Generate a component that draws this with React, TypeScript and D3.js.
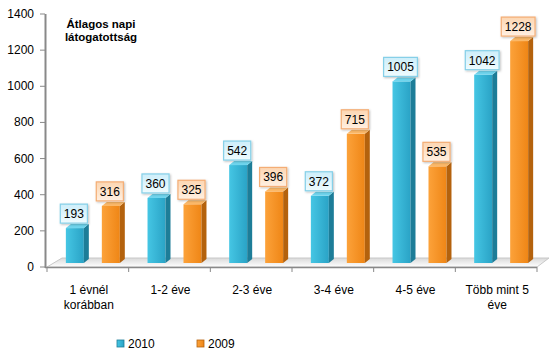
import React from "react";
import * as d3 from "d3";

const categories = ["c1", "c2", "c3", "c4", "c5", "c6"];
const categoryLabels: string[][] = [
  ["1 évnél", "korábban"],
  ["1-2 éve"],
  ["2-3 éve"],
  ["3-4 éve"],
  ["4-5 éve"],
  ["Több mint 5", "éve"],
];
const seriesNames = ["2010", "2009"];
const values2010 = [193, 360, 542, 372, 1005, 1042];
const values2009 = [316, 325, 396, 715, 535, 1228];
const yTicks = [0, 200, 400, 600, 800, 1000, 1200, 1400];
const titleLines = ["Átlagos napi", "látogatottság"];

const W = 559;
const H = 350;
const FONT = "'Liberation Sans', Arial, sans-serif";

const palette = {
  "2010": {
    frontA: "#45c6e4",
    frontB: "#2aa3c6",
    side: "#1d7d98",
    top: "#6fd5ee",
    boxFillA: "#cdeefa",
    boxFillB: "#effbfe",
    boxStroke: "#86d0e8",
  },
  "2009": {
    frontA: "#fca23a",
    frontB: "#ef8616",
    side: "#b4620d",
    top: "#fbb868",
    boxFillA: "#fcd6b2",
    boxFillB: "#fff0e2",
    boxStroke: "#f4ad74",
  },
} as Record<string, any>;

export default function App() {
  const x0 = 47;
  const x1 = 537;
  const yBase = 267;
  const x = d3.scaleBand<string>().domain(categories).range([x0, x1]);
  const bw = x.bandwidth();
  const xs = d3
    .scaleBand<string>()
    .domain(seriesNames)
    .range([0, bw])
    .paddingInner(0.5)
    .paddingOuter(0.385);
  const y = d3.scaleLinear().domain([0, 1400]).range([yBase, 14]);

  const dx = 5; // 3d depth
  const dy = 4;
  const shiftX = 5;
  const shiftY = 4;
  const floorDX = 13;
  const floorDY = 9;

  const series = [
    { name: "2010", values: values2010 },
    { name: "2009", values: values2009 },
  ];

  return (
    <svg
      width={W}
      height={H}
      style={{ position: "absolute", left: 0, top: 0, background: "#fff" }}
      fontFamily={FONT}
    >
      <defs>
        {seriesNames.map((s) => (
          <linearGradient key={"g" + s} id={"front" + s} x1="0" x2="1" y1="0" y2="0">
            <stop offset="0" stopColor={palette[s].frontA} />
            <stop offset="1" stopColor={palette[s].frontB} />
          </linearGradient>
        ))}
        {seriesNames.map((s) => (
          <linearGradient key={"b" + s} id={"box" + s} x1="0" x2="0" y1="0" y2="1">
            <stop offset="0" stopColor={palette[s].boxFillA} />
            <stop offset="1" stopColor={palette[s].boxFillB} />
          </linearGradient>
        ))}
        <linearGradient id="floor" x1="0" x2="0" y1="0" y2="1">
          <stop offset="0" stopColor="#d9d9d9" />
          <stop offset="1" stopColor="#ffffff" />
        </linearGradient>
        <filter id="shadow" x="-20%" y="-20%" width="140%" height="150%">
          <feDropShadow dx="1" dy="1" stdDeviation="0.8" floodColor="#000" floodOpacity="0.25" />
        </filter>
      </defs>

      {/* floor */}
      <polygon
        points={`${x0},${yBase} ${x1},${yBase} ${x1 + floorDX - 1},${yBase - floorDY} ${x0 + floorDX + 2},${yBase - floorDY}`}
        fill="url(#floor)"
        stroke="#c8c8c8"
        strokeWidth={1}
      />

      {/* y axis */}
      <line x1={45.5} x2={45.5} y1={14} y2={yBase + 1} stroke="#898989" strokeWidth={2} />
      {yTicks.map((t) => (
        <g key={t}>
          <line x1={40} x2={45} y1={y(t)} y2={y(t)} stroke="#898989" strokeWidth={1} />
          <text x={34} y={y(t) + 4} textAnchor="end" fontSize={12} fill="#000">
            {t}
          </text>
        </g>
      ))}

      {/* x axis */}
      <line x1={45} x2={x1} y1={yBase + 0.5} y2={yBase + 0.5} stroke="#898989" strokeWidth={1.5} />
      {[...categories.map((c) => x(c) as number), x1].map((p, i) => (
        <line key={i} x1={p} x2={p} y1={yBase} y2={yBase + 5} stroke="#898989" strokeWidth={1} />
      ))}
      {categories.map((c, i) => (
        <text key={c} textAnchor="middle" fontSize={12} fill="#000">
          {categoryLabels[i].map((l, j) => (
            <tspan key={j} x={(x(c) as number) + bw / 2 + 1} y={294 + j * 15}>
              {l}
            </tspan>
          ))}
        </text>
      ))}

      {/* bars */}
      {series.map((s) =>
        s.values.map((v, i) => {
          const c = categories[i];
          const left = (x(c) as number) + (xs(s.name) as number) + shiftX;
          const right = left + xs.bandwidth();
          const top = y(v) - shiftY;
          const bottom = yBase - shiftY;
          const p = palette[s.name];
          return (
            <g key={s.name + i}>
              <rect x={left} y={top} width={right - left} height={bottom - top} fill={`url(#front${s.name})`} />
              <polygon
                points={`${right},${top} ${right + dx},${top - dy} ${right + dx},${bottom - dy} ${right},${bottom}`}
                fill={p.side}
              />
              <polygon
                points={`${left},${top} ${left + dx},${top - dy} ${right + dx},${top - dy} ${right},${top}`}
                fill={p.top}
              />
            </g>
          );
        })
      )}

      {/* labels */}
      {series.map((s) =>
        s.values.map((v, i) => {
          const c = categories[i];
          const left = (x(c) as number) + (xs(s.name) as number) + shiftX;
          const cx = left + xs.bandwidth() / 2 - 1;
          const top = y(v) - shiftY;
          const txt = String(v);
          const bwid = txt.length * 6.7 + 7;
          const bh = 19;
          const by = top - 5 - bh;
          const p = palette[s.name];
          return (
            <g key={"l" + s.name + i}>
              <rect
                x={cx - bwid / 2}
                y={by}
                width={bwid}
                height={bh}
                fill={`url(#box${s.name})`}
                stroke={p.boxStroke}
                strokeWidth={1.2}
                filter="url(#shadow)"
              />
              <text x={cx} y={by + 14} textAnchor="middle" fontSize={12} fill="#000">
                {txt}
              </text>
            </g>
          );
        })
      )}

      {/* title */}
      <text textAnchor="middle" fontSize={11.5} fontWeight="bold" fill="#000">
        {titleLines.map((l, j) => (
          <tspan key={j} x={101} y={28 + j * 13}>
            {l}
          </tspan>
        ))}
      </text>

      {/* legend */}
      {seriesNames.map((s, i) => {
        const lx = 117 + i * 80;
        return (
          <g key={"leg" + s}>
            <rect x={lx} y={340} width={7} height={7} fill={`url(#front${s})`} stroke={palette[s].side} strokeWidth={0.8} />
            <text x={lx + 11} y={347.5} fontSize={12} fill="#000">
              {s}
            </text>
          </g>
        );
      })}
    </svg>
  );
}
